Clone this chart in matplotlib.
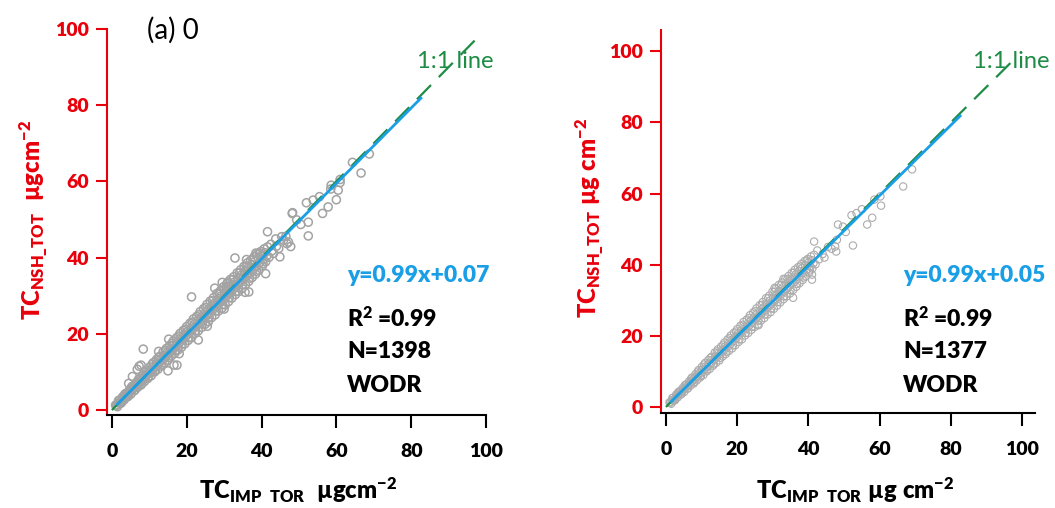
import matplotlib
matplotlib.use("Agg")
import matplotlib.pyplot as plt

plt.rcParams['font.family'] = ['Lato', 'DejaVu Sans']
plt.rcParams['mathtext.fontset'] = 'custom'
plt.rcParams['mathtext.rm'] = 'Lato'
plt.rcParams['mathtext.bf'] = 'Lato:heavy'
plt.rcParams['mathtext.it'] = 'Lato:italic'

# ---- data ----
core_a_x = [1.0, 1.5, 2.0, 2.4, 2.9, 3.3, 3.8, 4.2, 4.7, 5.1, 5.6, 6.0, 6.5, 6.9, 7.4, 7.8, 8.3, 8.7, 9.2, 9.6,
            10.1, 10.5, 11.0, 11.4, 11.9, 12.3, 12.8, 13.2, 13.7, 14.1, 14.6, 15.0, 15.5, 15.9, 16.4, 16.8, 17.3,
            17.7, 18.2, 18.6, 19.1, 19.5, 20.0, 20.4, 20.9, 21.3, 21.8, 22.2, 22.7, 23.1, 23.6, 24.0, 24.5, 24.9,
            25.4, 25.8, 26.3, 26.7, 27.2, 27.6, 28.1, 28.5, 29.0, 29.4, 29.9, 30.3, 30.8, 31.2, 31.7, 32.1, 32.6,
            33.0, 33.5, 33.9, 34.4, 34.8, 35.3, 35.7, 36.2, 36.6, 37.1, 37.5, 38.0, 38.4, 38.9, 39.3, 39.8, 40.2,
            40.7, 41.1, 41.6, 42.0]
core_a_y = [1.3, 0.9, 2.6, 1.8, 3.5, 2.7, 4.4, 3.5, 5.3, 4.2, 6.3, 5.1, 7.2, 6.0, 8.3, 6.6, 9.2, 7.5, 10.4, 8.3,
            11.3, 9.0, 12.4, 10.0, 13.2, 10.7, 14.1, 11.6, 15.3, 12.4, 16.2, 13.1, 17.0, 14.2, 18.1, 14.9, 19.0,
            15.8, 20.1, 16.5, 20.9, 17.4, 21.9, 18.3, 22.8, 19.0, 23.9, 20.1, 24.6, 20.8, 25.8, 21.7, 26.6, 22.5,
            27.7, 23.2, 28.6, 24.3, 29.5, 25.0, 30.6, 26.0, 31.3, 26.7, 32.4, 27.6, 33.2, 28.5, 34.3, 29.4, 35.0,
            30.3, 36.0, 31.1, 36.8, 31.9, 37.7, 32.9, 38.6, 33.8, 39.3, 34.8, 40.2, 35.7, 41.0, 36.7, 41.6, 37.8,
            42.3, 38.9, 42.8, 40.1]
core_b_x = [1.2, 1.7, 2.2, 2.7, 3.1, 3.6, 4.0, 4.5, 4.9, 5.4, 5.8, 6.3, 6.7, 7.2, 7.6, 8.1, 8.5, 9.0, 9.4, 9.9,
            10.3, 10.8, 11.2, 11.7, 12.1, 12.6, 13.0, 13.5, 13.9, 14.4, 14.8, 15.3, 15.7, 16.2, 16.6, 17.1, 17.5,
            18.0, 18.4, 18.9, 19.3, 19.8, 20.2, 20.7, 21.1, 21.6, 22.0, 22.5, 22.9, 23.4, 23.8, 24.3, 24.7, 25.2,
            25.6, 26.1, 26.5, 27.0, 27.4, 27.9, 28.3, 28.8, 29.2, 29.7, 30.1, 30.6, 31.0, 31.5, 31.9, 32.4, 32.8,
            33.3, 33.7, 34.2, 34.6, 35.1, 35.5, 36.0, 36.4, 36.9, 37.3, 37.8, 38.2, 38.7, 39.1, 39.6, 40.0, 40.5,
            40.9, 41.4]
core_b_y = [1.2, 1.9, 2.0, 2.5, 3.3, 3.4, 4.1, 4.3, 5.0, 5.2, 5.9, 6.1, 6.8, 7.0, 7.8, 7.8, 8.6, 8.7, 9.6, 9.6,
            10.5, 10.4, 11.4, 11.3, 12.3, 12.2, 13.3, 13.1, 14.2, 14.0, 15.1, 14.9, 16.0, 15.8, 17.0, 16.7, 17.8,
            17.6, 18.8, 18.5, 19.7, 19.4, 20.6, 20.3, 21.5, 21.2, 22.5, 22.0, 23.4, 22.9, 24.3, 23.8, 25.2, 24.7,
            26.2, 25.5, 27.1, 26.4, 28.0, 27.3, 28.9, 28.2, 29.9, 29.0, 30.8, 29.9, 31.7, 30.8, 32.6, 31.7, 33.6,
            32.5, 34.5, 33.4, 35.4, 34.3, 36.3, 35.1, 37.2, 36.0, 38.1, 36.9, 39.0, 37.8, 39.9, 38.7, 40.6, 39.5,
            41.3, 40.4]
core_c_x = [1.8, 2.6, 3.5, 4.4, 5.3, 6.2, 7.1, 8.0, 8.9, 9.8, 10.7, 11.6, 12.5, 13.4, 14.3, 15.2, 16.1, 17.0,
            17.9, 18.8, 19.7, 20.6, 21.5, 22.4, 23.3, 24.2, 25.1, 26.0, 26.9, 27.8, 28.7, 29.6, 30.5, 31.4, 32.3,
            33.2, 34.1, 35.0, 35.9, 36.8, 37.7, 38.6, 39.5, 40.4]
core_c_y = [2.5, 2.0, 4.2, 3.7, 6.1, 5.3, 8.0, 7.0, 9.9, 8.7, 11.9, 10.3, 13.8, 12.0, 15.6, 13.8, 17.5, 15.5,
            19.4, 17.3, 21.2, 19.0, 23.1, 20.8, 25.0, 22.6, 26.9, 24.3, 28.7, 26.0, 30.6, 27.7, 32.4, 29.5, 34.2,
            31.1, 36.0, 32.9, 37.8, 34.6, 39.5, 36.4, 41.2, 38.4]

left_out_x = [8.4, 21.3, 32.9, 41.6, 52.5, 68.8, 66.6, 64.3, 23.1, 15.0, 16.6, 35.6, 41.1, 60.5, 60.0, 57.8,
              56.3, 52.0, 53.8, 55.5, 58.6, 61.0, 48.3, 49.4, 52.5, 50.5, 48.2, 45.4, 47.8, 45.9, 46.8, 44.6,
              44.9, 43.2, 42.5, 43.8, 46.5, 47.2, 44.0, 42.8, 5.5, 6.8, 7.3, 4.5, 12.5, 27.5, 29.5, 36.0, 38.5,
              30.0, 25.5, 18.0, 58.5, 61.0, 7.8, 17.4, 15.2, 31.0, 36.6]
left_out_y = [16.0, 29.7, 39.9, 46.8, 45.7, 67.2, 62.2, 65.0, 18.4, 10.3, 11.8, 30.9, 35.8, 57.7, 55.2, 53.3,
              51.6, 54.4, 55.1, 56.0, 59.0, 59.7, 51.8, 49.9, 49.3, 48.7, 51.6, 45.5, 42.9, 44.6, 43.7, 42.4,
              40.2, 41.1, 43.5, 44.9, 45.6, 44.1, 43.0, 41.8, 8.8, 10.7, 11.5, 7.0, 15.4, 32.0, 33.5, 39.5, 41.2,
              26.5, 22.0, 14.8, 58.0, 60.5, 11.8, 11.8, 18.6, 33.6, 31.0]

right_out_x = [41.6, 52.5, 66.6, 69.1, 56.5, 57.9, 60.4, 60.2, 52.1, 48.3, 49.7, 47.8, 47.5, 41.0, 35.7, 41.0,
               50.5, 53.5, 55.0, 58.5, 45.5, 44.0, 46.5, 43.0, 42.5, 48.0, 44.5, 30.5, 26.0, 33.0]
right_out_y = [46.5, 45.4, 62.0, 66.8, 51.3, 53.2, 56.6, 59.2, 53.9, 51.3, 50.7, 43.7, 45.1, 35.8, 30.7, 37.2,
               49.2, 54.5, 55.6, 58.3, 45.0, 43.0, 44.5, 41.5, 44.0, 47.0, 42.0, 33.5, 23.0, 36.0]

fit_x = [1.5, 82.6]
left_slope, left_icpt = 0.99, 0.07
right_slope, right_icpt = 0.99, 0.05
one_to_one = [0, 98]
ticks = [0, 20, 40, 60, 80, 100]
left_stats = ["y=0.99x+0.07", r"$\mathbf{R^{2}}$ =0.99", "N=1398", "WODR"]
right_stats = ["y=0.99x+0.05", r"$\mathbf{R^{2}}$ =0.99", "N=1377", "WODR"]

RED = '#e8000b'
BLUE = '#1a9fe6'
GREEN = '#1e8c45'
WEIGHT = 'heavy'

fig = plt.figure(figsize=(10.55, 5.08), dpi=100)


def panel(rect, xlim, ylim, outx, outy, slope, icpt, msize, mlw, mcol):
    ax = fig.add_axes(rect)
    ax.set_xlim(*xlim)
    ax.set_ylim(*ylim)
    for xs, ys in ((core_a_x, core_a_y), (core_b_x, core_b_y), (core_c_x, core_c_y), (outx, outy)):
        ax.scatter(xs, ys, s=msize, facecolors='none', edgecolors=mcol, linewidths=mlw, zorder=2)
    ax.plot(one_to_one, one_to_one, color=GREEN, lw=1.6, dashes=(9, 5), zorder=3)
    ax.plot(fit_x, [slope * v + icpt for v in fit_x], color=BLUE, lw=2.0, zorder=4)
    for s in ('top', 'right'):
        ax.spines[s].set_visible(False)
    ax.spines['left'].set_color(RED)
    ax.spines['left'].set_linewidth(1.5)
    ax.spines['bottom'].set_linewidth(1.5)
    ax.set_xticks(ticks)
    ax.set_yticks(ticks)
    ax.tick_params(axis='y', colors=RED, length=8, width=1.5, pad=5, labelsize=14)
    ax.tick_params(axis='x', colors='black', length=9, width=1.5, pad=11, labelsize=14)
    for lab in ax.get_xticklabels() + ax.get_yticklabels():
        lab.set_fontweight(WEIGHT)
    for lab in ax.get_yticklabels():
        lab.set_color(RED)
    return ax


axL = panel([0.1014, 0.183, 0.3593, 0.760], (-1.3, 100), (-1.3, 100), left_out_x, left_out_y,
            left_slope, left_icpt, 34, 1.1, '#a3a3a3')
axR = panel([0.6265, 0.187, 0.3545, 0.754], (-1.4, 103.6), (-1.7, 106), right_out_x, right_out_y,
            right_slope, right_icpt, 28, 0.8, '#acacac')

# stats text
stat_rows = [276, 319, 352, 385]
for x0, stats in ((347, left_stats), (903, right_stats)):
    for i, (txt, yp) in enumerate(zip(stats, stat_rows)):
        fig.text(x0 / 1055, 1 - yp / 508, txt, ha='left', va='center', fontsize=16.5, fontweight=WEIGHT,
                 color=BLUE if i == 0 else 'black')

# 1:1 line labels
fig.text(417 / 1055, 1 - 62 / 508, "1:1 line", fontsize=17, color=GREEN, ha='left', va='center')
fig.text(973 / 1055, 1 - 62 / 508, "1:1 line", fontsize=17, color=GREEN, ha='left', va='center')

# panel label
fig.text(147 / 1055, 1 - 30 / 508, "(a) 0", fontsize=20, ha='left', va='center')

# axis labels
fig.text(298 / 1055, 1 - 490 / 508, r"$\mathbf{TC_{IMP\ \ TOR}}$  $\mathbf{µgcm^{-2}}$", fontsize=17,
         ha='center', va='center')
fig.text(855 / 1055, 1 - 490 / 508, r"$\mathbf{TC_{IMP\ \ TOR}}$ $\mathbf{µg\ cm^{-2}}$", fontsize=17,
         ha='center', va='center')
fig.text(34 / 1055, 1 - 220 / 508, r"$\mathbf{TC_{NSH\_TOT}}$  $\mathbf{µgcm^{-2}}$", fontsize=17,
         ha='center', va='center', rotation=90, color=RED)
fig.text(590 / 1055, 1 - 218 / 508, r"$\mathbf{TC_{NSH\_TOT}}$ $\mathbf{µg\ cm^{-2}}$", fontsize=17,
         ha='center', va='center', rotation=90, color=RED)

fig.savefig("out.png", dpi=100)
